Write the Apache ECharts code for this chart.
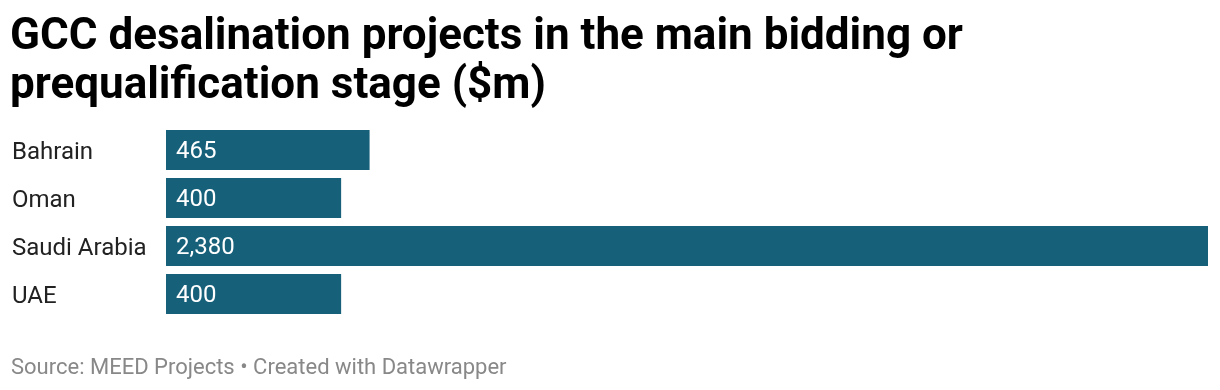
<!DOCTYPE html>
<html><head><meta charset="utf-8">
<script src="https://cdn.jsdelivr.net/npm/echarts@6/dist/echarts.min.js"></script>
<style>html,body{margin:0;padding:0;background:#fff}#c{width:1220px;height:390px}</style>
</head><body><div id="c"></div>
<script>
const categories = ["Bahrain", "Oman", "Saudi Arabia", "UAE"];
const values = [465, 400, 2380, 400];
const titleText = "GCC desalination projects in the main bidding or\nprequalification stage ($m)";
const footerText = "Source: MEED Projects \u2022 Created with Datawrapper";

const chart = echarts.init(document.getElementById('c'), null, {renderer: 'canvas'});
chart.setOption({
  animation: false,
  backgroundColor: '#ffffff',
  textStyle: {fontFamily: 'Roboto'},
  title: [{
    text: titleText, left: 10, top: 13, padding: 0,
    textStyle: {fontFamily: 'Roboto', fontWeight: 'bold', fontSize: 44, lineHeight: 49, color: '#000'}
  }, {
    text: footerText, left: 11, top: 357, padding: 0,
    textStyle: {fontFamily: 'Roboto', fontWeight: 'normal', fontSize: 22, lineHeight: 22, color: '#888888'}
  }],
  grid: {left: 166, right: 12, top: 126, height: 192, containLabel: false},
  xAxis: {type: 'value', min: 0, max: 2380, show: false},
  yAxis: {
    type: 'category', data: categories, inverse: true,
    axisLine: {show: false}, axisTick: {show: false},
    axisLabel: {align: 'left', margin: 154, formatter: v => '{a|' + v + '}',
      rich: {a: {fontFamily: 'Roboto', fontSize: 24, color: '#222', padding: [5, 0, 0, 0]}}}
  },
  series: [{
    type: 'bar', data: values, barCategoryGap: '16.67%',
    itemStyle: {color: '#16607a'},
    label: {show: true, position: 'insideLeft', distance: 10, offset: [0, 2], color: '#fff', fontFamily: 'Roboto', fontSize: 24,
      formatter: p => p.value.toLocaleString('en-US')}
  }]
});
</script></body></html>
